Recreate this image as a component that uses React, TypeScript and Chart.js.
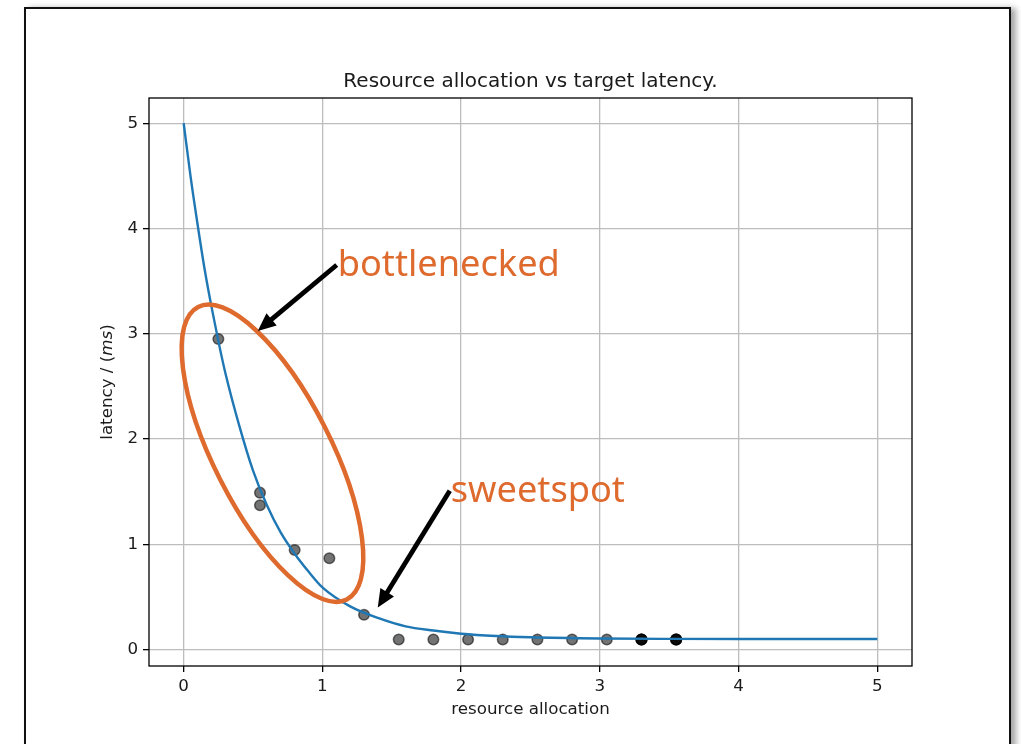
import React, { useEffect, useRef } from 'react';
import { Chart, registerables } from 'chart.js';

Chart.register(...registerables);

// ---- data ----
const curveX = [0, 0.05, 0.1, 0.15, 0.2, 0.25, 0.3, 0.4, 0.5, 0.6, 0.7, 0.8, 0.9, 1.0, 1.2, 1.4, 1.6, 1.8, 2.0, 2.25, 2.5, 3.0, 3.5, 4.0, 4.5, 5.0];
const curveY = [5.0, 4.49, 4.04, 3.62, 3.26, 2.93, 2.63, 2.13, 1.70, 1.37, 1.11, 0.91, 0.74, 0.59, 0.41, 0.30, 0.22, 0.18, 0.15, 0.128, 0.116, 0.105, 0.101, 0.1, 0.1, 0.1];

const pointX = [0.25, 0.55, 0.55, 0.8, 1.05, 1.3, 1.55, 1.8, 2.05, 2.3, 2.55, 2.8, 3.05, 3.3, 3.3, 3.3, 3.3, 3.55, 3.55, 3.55, 3.55];
const pointY = [2.95, 1.49, 1.37, 0.945, 0.867, 0.33, 0.095, 0.095, 0.095, 0.095, 0.095, 0.095, 0.095, 0.095, 0.095, 0.095, 0.095, 0.095, 0.095, 0.095, 0.095];

const xTicks = [0, 1, 2, 3, 4, 5];
const yTicks = [0, 1, 2, 3, 4, 5];
const xMin = -0.25;
const xMax = 5.25;
const yMin = -0.157;
const yMax = 5.24;

const titleText = 'Resource allocation vs target latency.';
const xLabelText = 'resource allocation';
const yLabelParts: [string, boolean][] = [['latency / (', false], ['ms', true], [')', false]];

const annotationLabels = ['bottlenecked', 'sweetspot'];
const annotationTextX = [1.11, 1.925];
const annotationTextY = [3.545, 1.405];
const arrowFromX = [1.103, 1.918];
const arrowFromY = [3.653, 1.509];
const arrowToX = [0.534, 1.399];
const arrowToY = [3.027, 0.398];

const ellipseCenter = [0.64, 1.865];
const ellipseMajorEnd = [0.104, 3.255];
const ellipseMinorEnd = [1.015, 2.12];

// ---- styles ----
const BASE_FONT = '"DejaVu Sans", sans-serif';
const ORANGE = '#de6a2e';

const overlayPlugin = {
  id: 'overlay',
  afterDatasetsDraw(chart: any) {
    const { ctx, chartArea: ca, scales } = chart;
    const xs = scales.x;
    const ys = scales.y;
    ctx.save();

    // axes frame
    ctx.strokeStyle = '#000';
    ctx.lineWidth = 1.3;
    ctx.strokeRect(ca.left, ca.top, ca.right - ca.left, ca.bottom - ca.top);

    // ellipse
    const cx = xs.getPixelForValue(ellipseCenter[0]);
    const cy = ys.getPixelForValue(ellipseCenter[1]);
    const mx = xs.getPixelForValue(ellipseMajorEnd[0]) - cx;
    const my = ys.getPixelForValue(ellipseMajorEnd[1]) - cy;
    const nx = xs.getPixelForValue(ellipseMinorEnd[0]) - cx;
    const ny = ys.getPixelForValue(ellipseMinorEnd[1]) - cy;
    const a = Math.hypot(mx, my);
    const b = Math.hypot(nx, ny);
    ctx.beginPath();
    ctx.ellipse(cx, cy, a, b, Math.atan2(my, mx), 0, Math.PI * 2);
    ctx.strokeStyle = ORANGE;
    ctx.lineWidth = 4.5;
    ctx.stroke();

    // arrows
    for (let i = 0; i < arrowFromX.length; i++) {
      const x0 = xs.getPixelForValue(arrowFromX[i]);
      const y0 = ys.getPixelForValue(arrowFromY[i]);
      const x1 = xs.getPixelForValue(arrowToX[i]);
      const y1 = ys.getPixelForValue(arrowToY[i]);
      const ang = Math.atan2(y1 - y0, x1 - x0);
      const headLen = 18;
      const headHalf = 8;
      const bx = x1 - headLen * Math.cos(ang);
      const by = y1 - headLen * Math.sin(ang);
      ctx.beginPath();
      ctx.moveTo(x0, y0);
      ctx.lineTo(bx + 2 * Math.cos(ang), by + 2 * Math.sin(ang));
      ctx.strokeStyle = '#000';
      ctx.lineWidth = 4.8;
      ctx.lineCap = 'butt';
      ctx.stroke();
      ctx.beginPath();
      ctx.moveTo(x1, y1);
      ctx.lineTo(bx + headHalf * Math.sin(ang), by - headHalf * Math.cos(ang));
      ctx.lineTo(bx - headHalf * Math.sin(ang), by + headHalf * Math.cos(ang));
      ctx.closePath();
      ctx.fillStyle = '#000';
      ctx.fill();
    }

    // annotation text
    ctx.fillStyle = ORANGE;
    ctx.font = '36.2px "Noto Sans", "Open Sans", sans-serif';
    ctx.textAlign = 'left';
    ctx.textBaseline = 'alphabetic';
    for (let i = 0; i < annotationLabels.length; i++) {
      ctx.fillText(annotationLabels[i], xs.getPixelForValue(annotationTextX[i]), ys.getPixelForValue(annotationTextY[i]));
    }
    ctx.restore();
  },
  afterDraw(chart: any) {
    const { ctx, chartArea: ca } = chart;
    const midX = (ca.left + ca.right) / 2;
    const midY = (ca.top + ca.bottom) / 2;
    ctx.save();
    ctx.fillStyle = '#1a1a1a';
    ctx.textBaseline = 'alphabetic';

    // title
    ctx.font = '20px ' + BASE_FONT;
    ctx.textAlign = 'center';
    ctx.fillText(titleText, midX, ca.top - 11);

    // x label
    ctx.font = '16.7px ' + BASE_FONT;
    ctx.fillText(xLabelText, midX, ca.bottom + 48);

    // y label (rotated, with italic math part)
    const fonts = yLabelParts.map(([, it]) => (it ? 'italic ' : '') + '16.7px ' + BASE_FONT);
    let total = 0;
    const widths = yLabelParts.map(([t], i) => {
      ctx.font = fonts[i];
      const w = ctx.measureText(t).width;
      total += w;
      return w;
    });
    ctx.translate(ca.left - 37, midY);
    ctx.rotate(-Math.PI / 2);
    ctx.textAlign = 'left';
    let pos = -total / 2;
    yLabelParts.forEach(([t], i) => {
      ctx.font = fonts[i];
      ctx.fillText(t, pos, 0);
      pos += widths[i];
    });
    ctx.restore();
  },
};

export default function App() {
  const canvasRef = useRef<HTMLCanvasElement | null>(null);

  useEffect(() => {
    const canvas = canvasRef.current;
    if (!canvas) return;
    const tickFont = { family: BASE_FONT, size: 16.7 };
    const chart = new Chart(canvas, {
      type: 'scatter',
      data: {
        datasets: [
          {
            type: 'line',
            data: curveX.map((x, i) => ({ x, y: curveY[i] })),
            borderColor: '#1f77b4',
            borderWidth: 2.4,
            pointRadius: 0,
            cubicInterpolationMode: 'monotone',
            fill: false,
            order: 0,
          } as any,
          {
            type: 'scatter',
            data: pointX.map((x, i) => ({ x, y: pointY[i] })),
            backgroundColor: 'rgba(0,0,0,0.55)',
            borderColor: 'rgba(0,0,0,0.55)',
            borderWidth: 1.5,
            pointRadius: 5.3,
            order: 1,
          } as any,
        ],
      },
      options: {
        animation: false,
        responsive: false,
        devicePixelRatio: 1,
        events: [],
        layout: { padding: { top: 98, right: 109, left: 0, bottom: 0 } },
        plugins: {
          legend: { display: false },
          tooltip: { enabled: false },
          title: { display: false },
        },
        scales: {
          x: {
            type: 'linear',
            min: xMin,
            max: xMax,
            afterBuildTicks: (s: any) => {
              s.ticks = xTicks.map((v) => ({ value: v }));
            },
            afterFit: (s: any) => {
              s.height = 78;
            },
            grid: { color: '#bdbdbd', lineWidth: 1.3, tickColor: '#000', tickLength: 6, tickWidth: 1.3, drawTicks: true },
            border: { display: false },
            ticks: { font: tickFont, color: '#1a1a1a', padding: 5, maxRotation: 0 },
          },
          y: {
            type: 'linear',
            min: yMin,
            max: yMax,
            afterBuildTicks: (s: any) => {
              s.ticks = yTicks.map((v) => ({ value: v }));
            },
            afterFit: (s: any) => {
              s.width = 149;
            },
            grid: { color: '#bdbdbd', lineWidth: 1.3, tickColor: '#000', tickLength: 6, tickWidth: 1.3, drawTicks: true },
            border: { display: false },
            ticks: { font: tickFont, color: '#1a1a1a', padding: 5 },
          },
        },
      },
      plugins: [overlayPlugin],
    } as any);
    return () => chart.destroy();
  }, []);

  return (
    <div style={{ position: 'fixed', left: 0, top: 0, width: 1021, height: 744, overflow: 'hidden', background: '#fff' }}>
      <div
        style={{
          position: 'absolute',
          left: 24,
          top: 7,
          width: 987,
          height: 820,
          boxSizing: 'border-box',
          border: '2.5px solid #111',
          boxShadow: '5px 1px 6px rgba(0,0,0,0.35)',
          background: '#fff',
        }}
      />
      <canvas ref={canvasRef} width={1021} height={744} style={{ position: 'absolute', left: 0, top: 0, width: 1021, height: 744 }} />
    </div>
  );
}
